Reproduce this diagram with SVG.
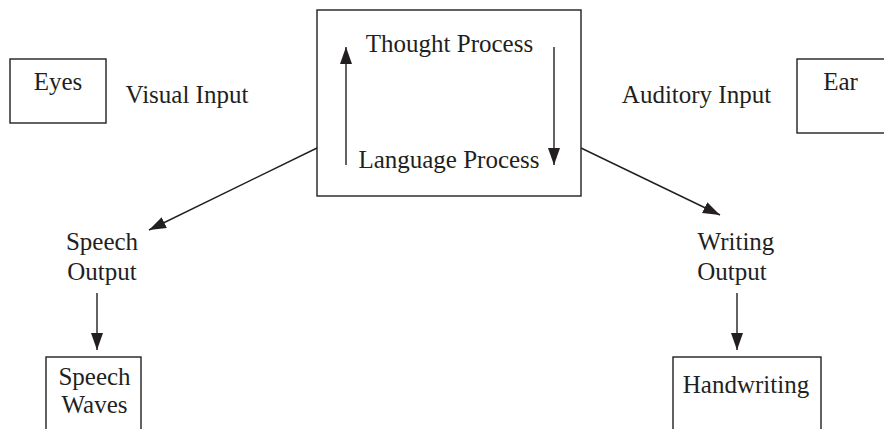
<svg xmlns="http://www.w3.org/2000/svg" width="884" height="429" viewBox="0 0 884 429">
  <style>
    .box { fill: none; stroke: #231f20; stroke-width: 1.4; }
    .lbl { font-family: "Liberation Serif", "Times New Roman", serif; font-size: 25px; fill: #231f20; text-anchor: middle; }
    .edge { fill: none; stroke: #231f20; stroke-width: 1.4; marker-end: url(#head); }
  </style>
  <defs>
    <marker id="head" markerUnits="userSpaceOnUse" markerWidth="18" markerHeight="13" refX="17" refY="6" orient="auto">
      <path d="M0,0 L17,6 L0,12 z" fill="#231f20"/>
    </marker>
  </defs>
  <rect width="884" height="429" fill="#ffffff"/>

  <g id="eyes">
    <rect class="box" x="10" y="59" width="96" height="64"/>
    <text class="lbl" x="58" y="90">Eyes</text>
  </g>
  <g id="visual-input">
    <text class="lbl" x="187" y="103">Visual Input</text>
  </g>

  <g id="brain">
    <rect class="box" x="317" y="10" width="264" height="186"/>
    <text class="lbl" x="449.5" y="52">Thought Process</text>
    <text class="lbl" x="449" y="168">Language Process</text>
  </g>

  <g id="auditory-input">
    <text class="lbl" x="696.5" y="103">Auditory Input</text>
  </g>
  <g id="ear">
    <rect class="box" x="797" y="59" width="100" height="74"/>
    <text class="lbl" x="840.5" y="90">Ear</text>
  </g>

  <g id="speech-output">
    <text class="lbl" x="102" y="250">Speech</text>
    <text class="lbl" x="102" y="280">Output</text>
  </g>
  <g id="writing-output">
    <text class="lbl" x="736" y="250">Writing</text>
    <text class="lbl" x="732" y="280">Output</text>
  </g>

  <g id="speech-waves">
    <rect class="box" x="46" y="357" width="95" height="90"/>
    <text class="lbl" x="94.5" y="385">Speech</text>
    <text class="lbl" x="94.5" y="413">Waves</text>
  </g>
  <g id="handwriting">
    <rect class="box" x="673" y="357" width="148" height="90"/>
    <text class="lbl" x="746" y="393">Handwriting</text>
  </g>

  <g id="connectors">
    <line class="edge" x1="346" y1="165" x2="346" y2="47"/>
    <line class="edge" x1="554" y1="47" x2="554" y2="165"/>
    <line class="edge" x1="317" y1="148" x2="149" y2="230"/>
    <line class="edge" x1="581" y1="148" x2="720" y2="215"/>
    <line class="edge" x1="97" y1="293" x2="97" y2="350"/>
    <line class="edge" x1="737" y1="293" x2="737" y2="350"/>
  </g>
</svg>
